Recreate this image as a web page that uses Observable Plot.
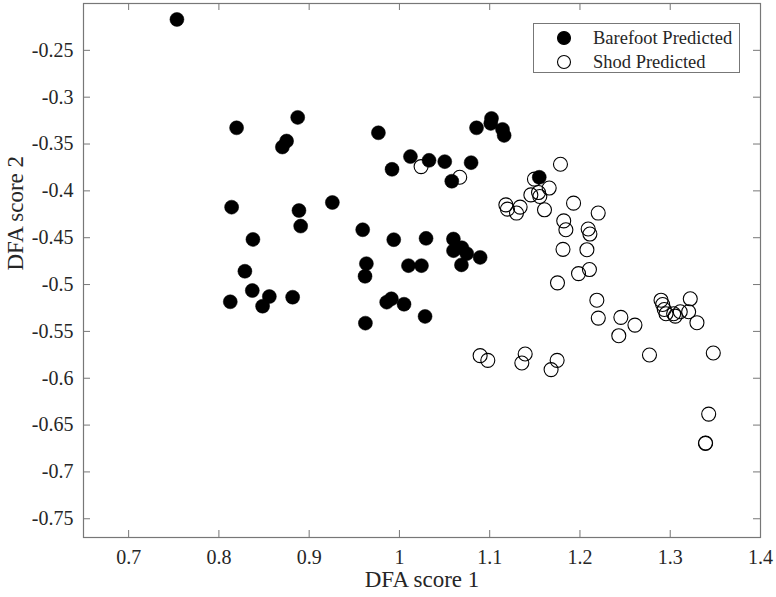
<!DOCTYPE html>
<html>
<head>
<meta charset="utf-8">
<script src="https://cdn.jsdelivr.net/npm/d3@7"></script>
<script src="https://cdn.jsdelivr.net/npm/@observablehq/plot@0.6"></script>
<style>
  html, body { margin: 0; padding: 0; background: #fff; }
  #wrap { position: relative; width: 776px; height: 597px; font-family: "Liberation Serif", "Times New Roman", serif; }
  #chart svg, #chart svg text { font-family: "Liberation Serif", "Times New Roman", serif !important; }
  #legend { position: absolute; left: 533px; top: 23px; width: 207px; height: 50px; box-sizing: border-box; border: 1px solid #777; background: #fff; }
</style>
</head>
<body>
<div id="wrap"><div id="chart"></div><div id="legend"></div></div>
<script>
// Barefoot Predicted (filled)
const barefootX = [0.7535,0.8196,0.8873,0.875,0.8703,0.9767,0.9918,0.8141,0.8887,0.9257,0.8906,0.9593,0.8377,0.9937,0.8288,0.9634,0.9619,0.837,0.8126,0.8559,0.8484,0.8817,0.9623,0.9859,0.9911,1.0051,1.0284,1.0854,1.102,1.1012,1.1142,1.116,1.0122,1.0328,1.0502,1.0794,1.058,1.1549,1.0295,1.0598,1.0599,1.0691,1.0746,1.0894,1.0687,1.01,1.0244];
const barefootY = [-0.217,-0.3327,-0.3216,-0.3468,-0.3532,-0.338,-0.377,-0.4174,-0.421,-0.4124,-0.4376,-0.4415,-0.4518,-0.4521,-0.4858,-0.4777,-0.4912,-0.5064,-0.5184,-0.5128,-0.5231,-0.5135,-0.5412,-0.5188,-0.5152,-0.521,-0.534,-0.3327,-0.3227,-0.328,-0.3344,-0.3408,-0.3634,-0.3674,-0.3688,-0.3699,-0.3897,-0.3855,-0.4507,-0.4514,-0.4638,-0.4607,-0.467,-0.471,-0.479,-0.4798,-0.4798];
// Shod Predicted (open)
const shodX = [1.024,1.0668,1.1784,1.1496,1.1659,1.1456,1.1541,1.1555,1.1607,1.1179,1.1197,1.1337,1.1297,1.1929,1.2202,1.182,1.1844,1.2091,1.211,1.1812,1.2077,1.1984,1.2105,1.1751,1.2187,1.2203,1.243,1.2453,1.2609,1.277,1.2898,1.2916,1.2934,1.2953,1.3038,1.3056,1.3111,1.3204,1.3222,1.3296,1.3477,1.3426,1.3392,1.339,1.0894,1.0979,1.1356,1.1393,1.168,1.1747];
const shodY = [-0.3741,-0.3855,-0.3716,-0.3875,-0.397,-0.4043,-0.4018,-0.406,-0.4202,-0.4149,-0.4195,-0.4173,-0.4237,-0.4131,-0.4237,-0.432,-0.4415,-0.4407,-0.4461,-0.4624,-0.4628,-0.4883,-0.484,-0.4982,-0.5167,-0.5358,-0.5546,-0.535,-0.5433,-0.5752,-0.5167,-0.5213,-0.5266,-0.5312,-0.5312,-0.5337,-0.529,-0.529,-0.5152,-0.5407,-0.5731,-0.6383,-0.6691,-0.6695,-0.5759,-0.5809,-0.5837,-0.5741,-0.5908,-0.5809];
const xTicks = [0.7, 0.8, 0.9, 1.0, 1.1, 1.2, 1.3, 1.4];
const yTicks = [-0.75, -0.7, -0.65, -0.6, -0.55, -0.5, -0.45, -0.4, -0.35, -0.3, -0.25];
const seriesNames = ["Barefoot Predicted", "Shod Predicted"];
const xLabel = "DFA score 1";
const yLabel = "DFA score 2";

const barefoot = barefootX.map((x, i) => ({x, y: barefootY[i]}));
const shod = shodX.map((x, i) => ({x, y: shodY[i]}));

const W = 776, H = 597, mL = 83, mR = 16, mT = 3, mB = 60;
const innerW = W - mL - mR, innerH = H - mT - mB;
const tickLen = 7;
const axisColor = "#777";
const serif = "Liberation Serif";
const fmt = d => String(+d.toFixed(2));

const chart = Plot.plot({
  width: W, height: H,
  marginLeft: mL, marginRight: mR, marginTop: mT, marginBottom: mB,
  x: {domain: [0.65, 1.4]},
  y: {domain: [-0.77, -0.2]},
  style: {fontFamily: serif, fontSize: "20px", color: "#262626", background: "#fff"},
  marks: [
    Plot.axisX({ticks: xTicks, tickSize: 0, tickPadding: 12, tickFormat: fmt, label: null, fontSize: 20, fontFamily: serif}),
    Plot.axisY({ticks: yTicks, tickSize: 0, tickPadding: 10, tickFormat: fmt, label: null, fontSize: 20, fontFamily: serif}),
    Plot.tickX(xTicks, {x: d => d, insetTop: innerH - tickLen, stroke: axisColor}),
    Plot.tickX(xTicks, {x: d => d, insetBottom: innerH - tickLen, stroke: axisColor}),
    Plot.tickY(yTicks, {y: d => d, insetRight: innerW - tickLen, stroke: axisColor}),
    Plot.tickY(yTicks, {y: d => d, insetLeft: innerW - tickLen, stroke: axisColor}),
    Plot.frame({stroke: axisColor, strokeWidth: 1.2}),
    Plot.dot(shod, {x: "x", y: "y", r: 7, fill: "none", stroke: "#000", strokeWidth: 1.1}),
    Plot.dot(barefoot, {x: "x", y: "y", r: 7, fill: "#000", stroke: "#000", strokeWidth: 0.5}),
    Plot.text([xLabel], {frameAnchor: "bottom", dy: 49, fontSize: 23, fontFamily: serif, fill: "#262626"}),
    Plot.text([yLabel], {frameAnchor: "left", dx: -68, rotate: -90, fontSize: 23, fontFamily: serif, fill: "#262626"})
  ]
});
document.getElementById("chart").appendChild(chart);

// Legend
const lg = d3.select("#legend").append("svg").attr("width", 205).attr("height", 48)
  .style("font-family", "'Liberation Serif', 'Times New Roman', serif");
seriesNames.forEach((name, i) => {
  const cy = 14 + i * 24;
  lg.append("circle").attr("cx", 30).attr("cy", cy).attr("r", 6.5)
    .attr("fill", i === 0 ? "#000" : "none").attr("stroke", "#000").attr("stroke-width", 1.1);
  lg.append("text").attr("x", 59).attr("y", cy).attr("dy", "0.35em")
    .attr("font-size", 18.5).attr("fill", "#262626").text(name);
});
</script>
</body>
</html>
